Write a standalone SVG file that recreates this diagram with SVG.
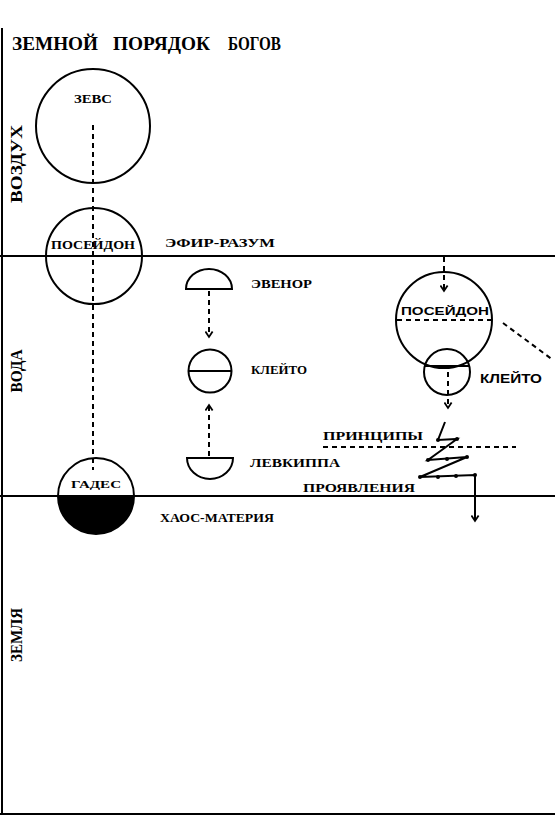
<svg xmlns="http://www.w3.org/2000/svg" width="555" height="818" viewBox="0 0 555 818">
<defs>
<marker id="chev" viewBox="0 0 10 10" refX="8" refY="5" markerWidth="9" markerHeight="9" orient="auto" markerUnits="userSpaceOnUse">
<path d="M2,1 L8,5 L2,9" fill="none" stroke="#000" stroke-width="2"/>
</marker>
<style>
.ln{stroke:#000;stroke-width:2;fill:none}
.dash{stroke:#000;stroke-width:2;fill:none;stroke-dasharray:5 4}
.t{font-family:"Liberation Serif","Times New Roman",serif;font-weight:bold;fill:#000}
.s{font-family:"Liberation Sans",Arial,sans-serif;font-weight:bold;fill:#000}
.dot{fill:#000}
</style>
</defs>
<rect width="555" height="818" fill="#fff"/>

<g id="frame">
<line class="ln" x1="2" y1="28" x2="2" y2="814"/>
<line class="ln" x1="0" y1="256" x2="555" y2="256"/>
<line class="ln" x1="0" y1="496" x2="555" y2="496"/>
<line class="ln" x1="0" y1="814" x2="555" y2="814"/>
</g>

<g id="title">
<text class="t" x="12" y="50" font-size="18" textLength="86" lengthAdjust="spacingAndGlyphs">ЗЕМНОЙ</text>
<text class="t" x="113" y="50" font-size="18" textLength="97" lengthAdjust="spacingAndGlyphs">ПОРЯДОК</text>
<text class="t" x="228" y="50" font-size="18" textLength="53" lengthAdjust="spacingAndGlyphs">БОГОВ</text>
</g>

<g id="zones">
<text class="t" font-size="17" transform="translate(22,164) rotate(-90)" text-anchor="middle" textLength="78" lengthAdjust="spacingAndGlyphs">ВОЗДУХ</text>
<text class="t" font-size="17" transform="translate(22,371) rotate(-90)" text-anchor="middle" textLength="43" lengthAdjust="spacingAndGlyphs">ВОДА</text>
<text class="t" font-size="17" transform="translate(22,635) rotate(-90)" text-anchor="middle" textLength="54" lengthAdjust="spacingAndGlyphs">ЗЕМЛЯ</text>
<text class="t" x="165" y="247" font-size="13" textLength="110" lengthAdjust="spacingAndGlyphs">ЭФИР-РАЗУМ</text>
<text class="t" x="160" y="522" font-size="13" textLength="114" lengthAdjust="spacingAndGlyphs">ХАОС-МАТЕРИЯ</text>
</g>

<g id="connectors">
<line class="dash" x1="93" y1="125" x2="93" y2="470"/>
<line class="dash" x1="209" y1="291" x2="209" y2="337" marker-end="url(#chev)"/>
<line class="dash" x1="209" y1="456" x2="209" y2="405" marker-end="url(#chev)"/>
<line class="dash" x1="444" y1="257" x2="444" y2="291" marker-end="url(#chev)"/>
<line class="dash" x1="448" y1="372" x2="448" y2="408" marker-end="url(#chev)"/>
<line class="dash" x1="503" y1="323" x2="553" y2="360"/>
<line class="dash" x1="323" y1="447" x2="516" y2="447"/>
<polyline class="ln" points="445,422 438,440 457,439 428,460 467,457 420,477 475,475 475,521" marker-end="url(#chev)"/>
<circle class="dot" cx="438" cy="440" r="2"/>
<circle class="dot" cx="457" cy="439" r="2"/>
<circle class="dot" cx="428" cy="460" r="2"/>
<circle class="dot" cx="447" cy="459" r="2"/>
<circle class="dot" cx="467" cy="457" r="2"/>
<circle class="dot" cx="420" cy="477" r="2"/>
<circle class="dot" cx="438" cy="477" r="2"/>
<circle class="dot" cx="456" cy="476" r="2"/>
<circle class="dot" cx="475" cy="475" r="2"/>
</g>

<g id="zevs">
<circle class="ln" cx="93" cy="126" r="57"/>
<text class="t" x="93" y="103" font-size="12" text-anchor="middle" textLength="38" lengthAdjust="spacingAndGlyphs">ЗЕВС</text>
</g>

<g id="poseidon-left">
<circle class="ln" cx="94" cy="256" r="48"/>
<text class="t" x="93" y="249" font-size="12" text-anchor="middle" textLength="84" lengthAdjust="spacingAndGlyphs">ПОСЕЙДОН</text>
</g>

<g id="gades">
<path d="M58,496 A38,38 0 0 0 134,496 Z" fill="#000" stroke="#000" stroke-width="2"/>
<path class="ln" d="M58,496 A38,38 0 0 1 134,496"/>
<text class="t" x="96" y="488" font-size="11" text-anchor="middle" textLength="50" lengthAdjust="spacingAndGlyphs">ГАДЕС</text>
</g>

<g id="evenor">
<path class="ln" d="M186,289 A23,20 0 0 1 232,289 Z"/>
<text class="t" x="251" y="288" font-size="12" textLength="61" lengthAdjust="spacingAndGlyphs">ЭВЕНОР</text>
</g>

<g id="kleito-mid">
<circle class="ln" cx="210" cy="371" r="21.5"/>
<line class="ln" x1="188.5" y1="371" x2="231.5" y2="371"/>
<text class="t" x="251" y="374" font-size="12" textLength="56" lengthAdjust="spacingAndGlyphs">КЛЕЙТО</text>
</g>

<g id="levkippa">
<path class="ln" d="M187,458 A23,21 0 0 0 233,458 Z"/>
<text class="t" x="250" y="467" font-size="12" textLength="90" lengthAdjust="spacingAndGlyphs">ЛЕВКИППА</text>
</g>

<g id="poseidon-right">
<circle class="ln" cx="444" cy="320" r="48"/>
<line class="dash" x1="397" y1="320" x2="491" y2="320"/>
<text class="s" x="445" y="315" font-size="11" text-anchor="middle" textLength="88" lengthAdjust="spacingAndGlyphs">ПОСЕЙДОН</text>
</g>

<g id="kleito-right">
<circle class="ln" cx="447" cy="372" r="23"/>
<line class="ln" x1="425" y1="366" x2="469" y2="366"/>
<text class="s" x="480" y="383" font-size="13" textLength="62" lengthAdjust="spacingAndGlyphs">КЛЕЙТО</text>
</g>

<g id="principles">
<text class="t" x="323" y="440" font-size="12" textLength="100" lengthAdjust="spacingAndGlyphs">ПРИНЦИПЫ</text>
</g>

<g id="manifestations">
<text class="t" x="303" y="492" font-size="12" textLength="112" lengthAdjust="spacingAndGlyphs">ПРОЯВЛЕНИЯ</text>
</g>
</svg>
